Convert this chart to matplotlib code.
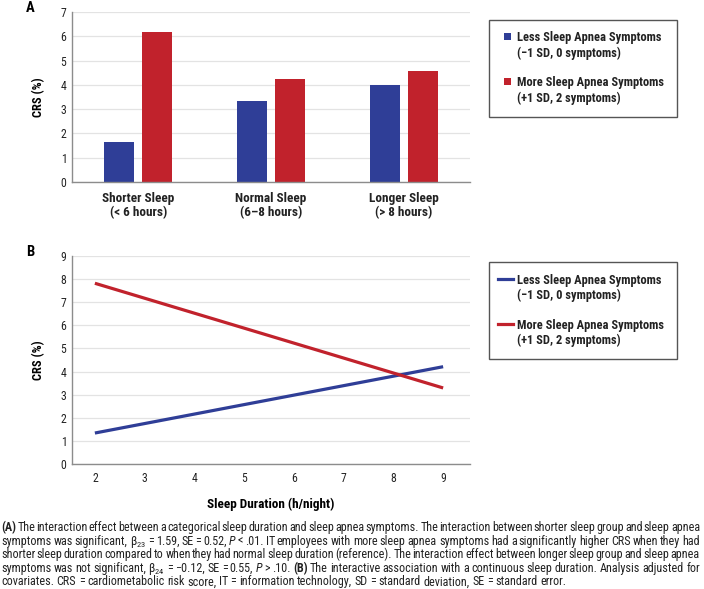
import numpy as np
import matplotlib
matplotlib.use('Agg')
import matplotlib.pyplot as plt
from matplotlib import font_manager
from matplotlib.lines import Line2D
from matplotlib.patches import Rectangle

# Fonts: the original uses a narrow Arial-like face
names = {f.name for f in font_manager.fontManager.ttflist}
narrow = 'Liberation Sans'
for cand in ['Liberation Sans Narrow', 'Roboto Condensed', 'Open Sans Condensed', 'Archivo Narrow']:
    if cand in names:
        narrow = cand
        break
plt.rcParams['font.family'] = [narrow, 'DejaVu Sans']
plt.rcParams['mathtext.fontset'] = 'custom'
plt.rcParams['mathtext.rm'] = narrow
plt.rcParams['mathtext.it'] = narrow + ':italic'

# Data
groups = ['Shorter Sleep\n(< 6 hours)', 'Normal Sleep\n(6\u20138 hours)', 'Longer Sleep\n(> 8 hours)']
less_bars = [1.66, 3.32, 4.0]
more_bars = [6.16, 4.23, 4.56]
legend_labels = [['Less Sleep Apnea Symptoms', '(\u22121 SD, 0 symptoms)'],
                 ['More Sleep Apnea Symptoms', '(+1 SD, 2 symptoms)']]

sleep_hours = [2, 9]
less_line = [1.34, 4.21]
more_line = [7.82, 3.29]

caption_lines = [
    "(A) The interaction effect between a categorical sleep duration and sleep apnea symptoms. The interaction between shorter sleep group and sleep apnea",
    "symptoms was significant, \u03b2$_{23}$ = 1.59, SE = 0.52, P < .01. IT employees with more sleep apnea symptoms had a significantly higher CRS when they had",
    "shorter sleep duration compared to when they had normal sleep duration (reference). The interaction effect between longer sleep group and sleep apnea",
    "symptoms was not significant, \u03b2$_{24}$ = \u22120.12, SE = 0.55, P > .10. (B) The interactive association with a continuous sleep duration. Analysis adjusted for",
    "covariates. CRS = cardiometabolic risk score, IT = information technology, SD = standard deviation, SE = standard error.",
]
bold_words = {'(A)', '(B)'}
italic_words = {'P'}

blue = '#2f3e97'
red = '#c1222c'
W, H = 704, 589

fig = plt.figure(figsize=(W / 100, H / 100), dpi=100)


def fx(px):
    return px / W


def fy(py):
    return 1 - py / H


def style_axes(ax):
    for s in ['top', 'right']:
        ax.spines[s].set_visible(False)
    for s in ['left', 'bottom']:
        ax.spines[s].set_color('#8c8c8c')
        ax.spines[s].set_linewidth(1.0)
    ax.grid(axis='y', color='#e3e3e3', linewidth=0.9)
    ax.set_axisbelow(True)
    ax.tick_params(length=0, labelsize=8.5, colors='#222222', pad=4)


def draw_legend(top, bottom, line_y, kind):
    # frame
    fig.add_artist(Rectangle((fx(489), fy(bottom)), fx(677) - fx(489), fy(top) - fy(bottom),
                             transform=fig.transFigure, facecolor='white',
                             edgecolor='#555555', linewidth=1.0))
    for k, (color, lines) in enumerate(zip([blue, red], legend_labels)):
        y1 = line_y[2 * k]
        if kind == 'bar':
            fig.add_artist(Rectangle((fx(504), fy(y1 + 3.5)), fx(7), 7 / H,
                                     transform=fig.transFigure, color=color, lw=0))
        else:
            fig.add_artist(Line2D([fx(498), fx(513)], [fy(y1), fy(y1)],
                                  transform=fig.transFigure, color=color, lw=2.3))
        for j, txt in enumerate(lines):
            fig.text(fx(517), fy(line_y[2 * k + j] + 4.6), txt, fontsize=9, fontweight='bold',
                     color='#222222', ha='left', va='baseline')


# Panel A
ax_a = fig.add_axes([fx(72), fy(182), 398 / W, 170 / H])
x = np.arange(len(groups))
ax_a.bar(x - 0.143, less_bars, width=0.225, color=blue)
ax_a.bar(x + 0.143, more_bars, width=0.225, color=red)
ax_a.set_xlim(-0.5, 2.5)
ax_a.set_ylim(0, 7)
ax_a.set_yticks(range(0, 8))
style_axes(ax_a)
ax_a.set_xticks(x)
ax_a.set_xticklabels(groups, fontsize=9.5, fontweight='bold', linespacing=1.1)
ax_a.tick_params(axis='x', pad=7)
ax_a.set_ylabel('CRS (%)', fontsize=9, fontweight='bold', labelpad=11)
fig.text(fx(30), fy(8), 'A', fontsize=10.5, fontweight='bold', va='center', ha='center')
draw_legend(20, 117, [36, 52, 81, 97], 'bar')

# Panel B
ax_b = fig.add_axes([fx(72), fy(464), 398 / W, 208 / H])
ax_b.plot(sleep_hours, less_line, color=blue, lw=2.3, solid_capstyle='butt')
ax_b.plot(sleep_hours, more_line, color=red, lw=2.3, solid_capstyle='butt')
ax_b.set_xlim(1.54, 9.54)
ax_b.set_ylim(0, 9)
ax_b.set_yticks(range(0, 10))
ax_b.set_xticks(range(2, 10))
style_axes(ax_b)
ax_b.tick_params(axis='x', pad=6)
ax_b.set_ylabel('CRS (%)', fontsize=9, fontweight='bold', labelpad=11)
ax_b.set_xlabel('Sleep Duration (h/night)', fontsize=9.5, fontweight='bold', labelpad=9)
fig.text(fx(30), fy(252), 'B', fontsize=10.5, fontweight='bold', va='center', ha='center')
draw_legend(262, 359, [279, 294, 324, 339], 'line')

# Caption, justified line by line
fig.canvas.draw()
renderer = fig.canvas.get_renderer()
left, right = fx(1), fx(700)
y0 = fy(531)
step = 13.6 / H
for i, line in enumerate(caption_lines):
    y = y0 - i * step
    words = line.split(' ')
    texts = []
    for w in words:
        kw = {}
        if w in bold_words:
            kw['fontweight'] = 'bold'
        if w in italic_words:
            kw['fontstyle'] = 'italic'
        t = fig.text(0, y, w, fontsize=8.7, color='#222222', va='baseline', ha='left', **kw)
        texts.append(t)
    widths = [t.get_window_extent(renderer).width / W for t in texts]
    if i < len(caption_lines) - 1:
        gap = (right - left - sum(widths)) / (len(words) - 1)
    else:
        gap = 2.6 / W
    xpos = left
    for t, wd in zip(texts, widths):
        t.set_x(xpos)
        xpos += wd + gap

fig.savefig('out.png', dpi=100)
